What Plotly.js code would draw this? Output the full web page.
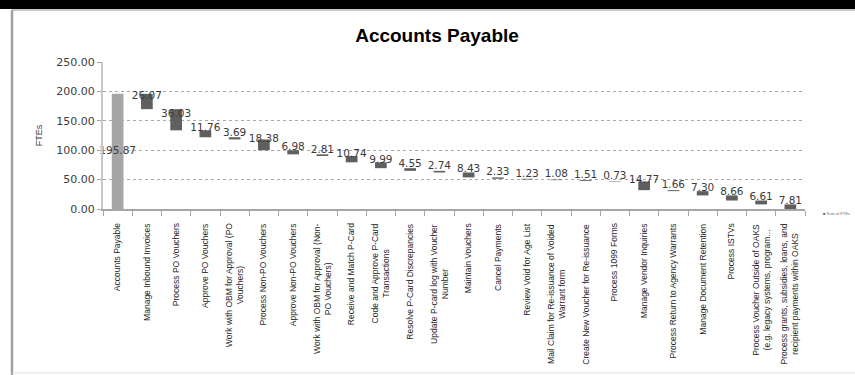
<!DOCTYPE html>
<html>
<head>
<meta charset="utf-8">
<script src="https://cdn.plot.ly/plotly-3.0.1.min.js"></script>
<style>
  html, body { margin: 0; padding: 0; background: #ffffff; }
  #chart { width: 855px; height: 375px; }
</style>
</head>
<body>
<div id="chart"></div>
<script>
// ---- Data ----
const categories = [
  "Accounts Payable",
  "Manage Inbound Invoices",
  "Process PO Vouchers",
  "Approve PO Vouchers",
  "Work with OBM for Approval (PO<br>Vouchers)",
  "Process Non-PO Vouchers",
  "Approve Non-PO Vouchers",
  "Work with OBM for Approval (Non-<br>PO Vouchers)",
  "Receive and Match P-Card",
  "Code and Approve P-Card<br>Transactions",
  "Resolve P-Card Discrepancies",
  "Update P-card log with Voucher<br>Number",
  "Maintain Vouchers",
  "Cancel Payments",
  "Review Void for Age List",
  "Mail Claim for Re-issuance of Voided<br>Warrant form",
  "Create New Voucher for Re-issuance",
  "Process 1099 Forms",
  "Manage Vendor Inquiries",
  "Process Return to Agency Warrants",
  "Manage Document Retention",
  "Process ISTVs",
  "Process Voucher Outside of OAKS<br>(e.g. legacy systems, program...",
  "Process grants, subsidies, loans, and<br>recipient payments within OAKS"
];
const totalFTE = 195.87;
const taskFTEs = [26.07, 36.03, 11.76, 3.69, 18.38, 6.98, 2.81, 10.74, 9.99, 4.55, 2.74,
                  8.43, 2.33, 1.23, 1.08, 1.51, 0.73, 14.77, 1.66, 7.30, 8.66, 6.61, 7.81];
const yTicks = [0, 50, 100, 150, 200, 250];
const seriesName = "Sum of FTEs";

// ---- Build traces ----
const measures = ["absolute"].concat(taskFTEs.map(() => "relative"));
const wfValues = [totalFTE].concat(taskFTEs.map(v => -v));

// label positions: middle of each bar
const labelY = [];
const labelPos = [];
labelY.push(totalFTE / 2);
labelPos.push("middle center");
let running = totalFTE;
taskFTEs.forEach(v => {
  labelY.push(running - v / 2);
  labelPos.push("top center");
  running -= v;
});
const labelText = [totalFTE].concat(taskFTEs).map(v => v.toFixed(2));

const waterfall = {
  type: "waterfall",
  name: seriesName,
  x: categories,
  y: wfValues,
  measure: measures,
  totals: { marker: { color: "#a6a6a6" } },
  decreasing: { marker: { color: "#5f5f5f" } },
  increasing: { marker: { color: "#5f5f5f" } },
  connector: { visible: false },
  width: 0.4,
  textinfo: "none",
  hoverinfo: "x+y",
  showlegend: false
};

const labels = {
  type: "scatter",
  mode: "text",
  x: categories,
  y: labelY,
  text: labelText,
  textposition: labelPos,
  textfont: { family: "DejaVu Sans, sans-serif", size: 10.5, color: "#3a3a3a" },
  cliponaxis: false,
  hoverinfo: "skip",
  showlegend: false
};

// category label annotations (rotated, centred lines)
const annotations = categories.map(c => ({
  xref: "x", yref: "paper",
  x: c, y: -0.085,
  text: c,
  showarrow: false,
  textangle: -90,
  xanchor: "center", yanchor: "top",
  align: "center",
  font: { family: "Liberation Sans, Arial, sans-serif", size: 8.5, color: "#262626" }
}));

const L = 103, R = 50, T = 62, B = 166;
const H = 375, W = 855;
const ph = H - T - B;
const pw = W - L - R;
const py = p => (H - B - p) / ph;   // pixel row -> paper y
const px = p => (p - L) / pw;       // pixel col -> paper x

// tiny legend key
annotations.push({
  xref: "paper", yref: "paper",
  x: px(821), y: py(213), xanchor: "left", yanchor: "middle",
  text: "<span style='color:#5f5f5f'>■</span> " + seriesName,
  showarrow: false,
  font: { family: "Liberation Sans, Arial, sans-serif", size: 4, color: "#707070" }
});

const shapes = [
  { type: "rect", xref: "paper", yref: "paper", x0: px(-5), x1: px(W + 5), y0: py(9), y1: py(-5),
    fillcolor: "#000000", line: { width: 0 }, layer: "above" },
  { type: "line", xref: "paper", yref: "paper", x0: px(12), x1: px(W + 5), y0: py(10), y1: py(10),
    line: { color: "#b5b5b5", width: 1.5 } },
  { type: "line", xref: "paper", yref: "paper", x0: px(12), x1: px(12), y0: py(10), y1: py(H + 5),
    line: { color: "#a0a0a0", width: 2.5 } },
  { type: "line", xref: "paper", yref: "paper", x0: px(12), x1: px(W + 5), y0: py(373), y1: py(373),
    line: { color: "#e0e0e0", width: 1 } }
];

const layout = {
  width: W, height: H,
  margin: { l: L, r: R, t: T, b: B, pad: 0, autoexpand: false },
  paper_bgcolor: "#ffffff",
  plot_bgcolor: "#ffffff",
  title: {
    text: "<b>Accounts Payable</b>",
    font: { family: "Liberation Sans, Arial, sans-serif", size: 19, color: "#000000" },
    x: 437 / W, xanchor: "center", xref: "container",
    y: 1 - 35 / H, yanchor: "middle", yref: "container"
  },
  xaxis: {
    type: "category",
    range: [-0.5, categories.length - 0.5],
    showticklabels: false,
    showline: true, linecolor: "#a6a6a6", linewidth: 1.5,
    ticks: "outside", tickson: "boundaries", ticklen: 5, tickcolor: "#a6a6a6",
    showgrid: false, zeroline: false,
    automargin: false,
    fixedrange: true
  },
  yaxis: {
    range: [0, 250],
    tickvals: yTicks,
    tickformat: ".2f",
    tickfont: { family: "DejaVu Sans, sans-serif", size: 11, color: "#404040" },
    ticks: "outside", ticklen: 4, tickcolor: "#a6a6a6",
    showline: true, linecolor: "#c8c8c8", linewidth: 2,
    showgrid: true, gridcolor: "#a8a8a8", griddash: "dot", gridwidth: 1,
    zeroline: false,
    title: { text: "FTEs", font: { family: "Liberation Sans, Arial, sans-serif", size: 9, color: "#404040" }, standoff: 12 },
    automargin: false,
    fixedrange: true
  },
  showlegend: false,
  annotations: annotations,
  shapes: shapes
};

Plotly.newPlot("chart", [waterfall, labels], layout, { staticPlot: true, displayModeBar: false });
</script>
</body>
</html>
